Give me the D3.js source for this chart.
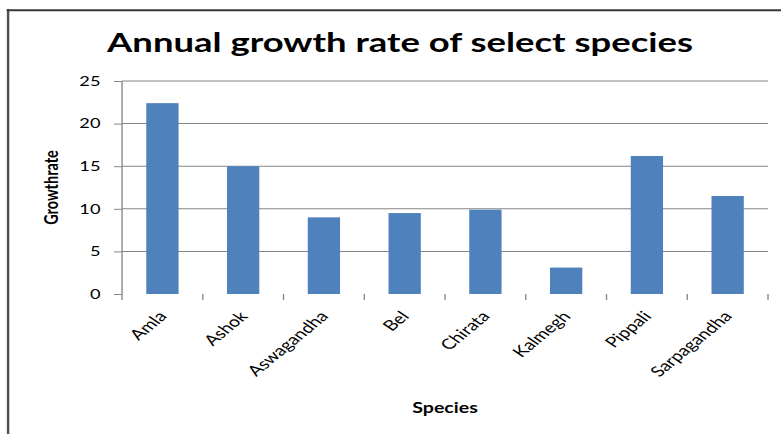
<!DOCTYPE html>
<html>
<head>
<meta charset="utf-8">
<script src="https://cdn.jsdelivr.net/npm/d3@7"></script>
<style>
  body { margin: 0; background: #fff; }
  text { font-family: Lato, "Open Sans", sans-serif; fill: #000; }
</style>
</head>
<body>
<div id="chart"></div>
<script>
// Data
const species = ['Amla', 'Ashok', 'Aswagandha', 'Bel', 'Chirata', 'Kalmegh', 'Pippali', 'Sarpagandha'];
const growthRate = [22.4, 15, 9, 9.5, 9.9, 3.1, 16.2, 11.5];
const yTicks = [0, 5, 10, 15, 20, 25];

const W = 781, H = 434;
const SX = 1.35; // the original chart image is stretched horizontally
const innerW = W / SX;

const svg = d3.select('#chart').append('svg')
  .attr('width', W)
  .attr('height', H);

const g = svg.append('g').attr('transform', `scale(${SX},1)`);

// frame remnants (left + top border)
g.append('line')
  .attr('x1', 6).attr('x2', 6).attr('y1', 9).attr('y2', H)
  .attr('stroke', '#505050').attr('stroke-width', 1.8);
g.append('line')
  .attr('x1', 5).attr('x2', innerW + 2).attr('y1', 10.3).attr('y2', 10.3)
  .attr('stroke', '#383838').attr('stroke-width', 2);

const plot = { left: 90.4, right: 568.9, top: 81, bottom: 294 };

const x = d3.scaleBand()
  .domain(species)
  .range([plot.left, plot.right])
  .paddingInner(0.6)
  .paddingOuter(0.3);

const y = d3.scaleLinear()
  .domain([0, 25])
  .range([plot.bottom, plot.top]);

// gridlines
g.append('g')
  .selectAll('line')
  .data(yTicks.filter(d => d > 0))
  .enter().append('line')
  .attr('x1', plot.left).attr('x2', plot.right)
  .attr('y1', d => y(d)).attr('y2', d => y(d))
  .attr('stroke', '#868686').attr('stroke-width', 1);

// y axis
const yAxis = g.append('g')
  .attr('transform', `translate(${plot.left},0)`)
  .call(d3.axisLeft(y).tickValues(yTicks).tickSize(6).tickPadding(10).tickSizeOuter(0));
yAxis.select('.domain').remove();
yAxis.selectAll('line').attr('stroke', '#868686');
yAxis.selectAll('text')
  .style('font-family', 'Lato, sans-serif')
  .style('font-size', '13.5px')
  .attr('fill', '#222');
g.append('line')
  .attr('x1', plot.left).attr('x2', plot.left)
  .attr('y1', plot.top).attr('y2', plot.bottom + 6)
  .attr('stroke', '#868686').attr('stroke-width', 1);

// category boundary ticks on x axis
const step = x.step();
const bounds = species.map(d => x(d) + x.bandwidth() / 2 + step / 2);
g.append('g')
  .selectAll('line')
  .data(bounds)
  .enter().append('line')
  .attr('x1', d => d).attr('x2', d => d)
  .attr('y1', plot.bottom).attr('y2', plot.bottom + 6)
  .attr('stroke', '#868686').attr('stroke-width', 1);

// bars
g.append('g')
  .selectAll('rect')
  .data(species)
  .enter().append('rect')
  .attr('x', d => x(d))
  .attr('y', (d, i) => y(growthRate[i]))
  .attr('width', x.bandwidth())
  .attr('height', (d, i) => y(0) - y(growthRate[i]))
  .attr('fill', '#4F81BD');

// x labels, rotated
g.append('g')
  .selectAll('text')
  .data(species)
  .enter().append('text')
  .attr('transform', d => `translate(${x(d) + x.bandwidth() / 2 + 4},317) rotate(-48)`)
  .attr('text-anchor', 'end')
  .style('font-size', '14.5px')
  .text(d => d);

// title
g.append('text')
  .attr('x', 296.3).attr('y', 52)
  .attr('text-anchor', 'middle')
  .style('font-size', '27px')
  .style('font-weight', 'bold')
  .text('Annual growth rate of select species');

// axis titles
g.append('text')
  .attr('x', (plot.left + plot.right) / 2).attr('y', 413)
  .attr('text-anchor', 'middle')
  .style('font-size', '14.5px')
  .style('font-weight', 'bold')
  .text('Species');

g.append('text')
  .attr('transform', `translate(43,${(plot.top + plot.bottom) / 2}) rotate(-90)`)
  .attr('text-anchor', 'middle')
  .style('font-size', '14.5px')
  .style('font-weight', 'bold')
  .text('Growthrate');
</script>
</body>
</html>
